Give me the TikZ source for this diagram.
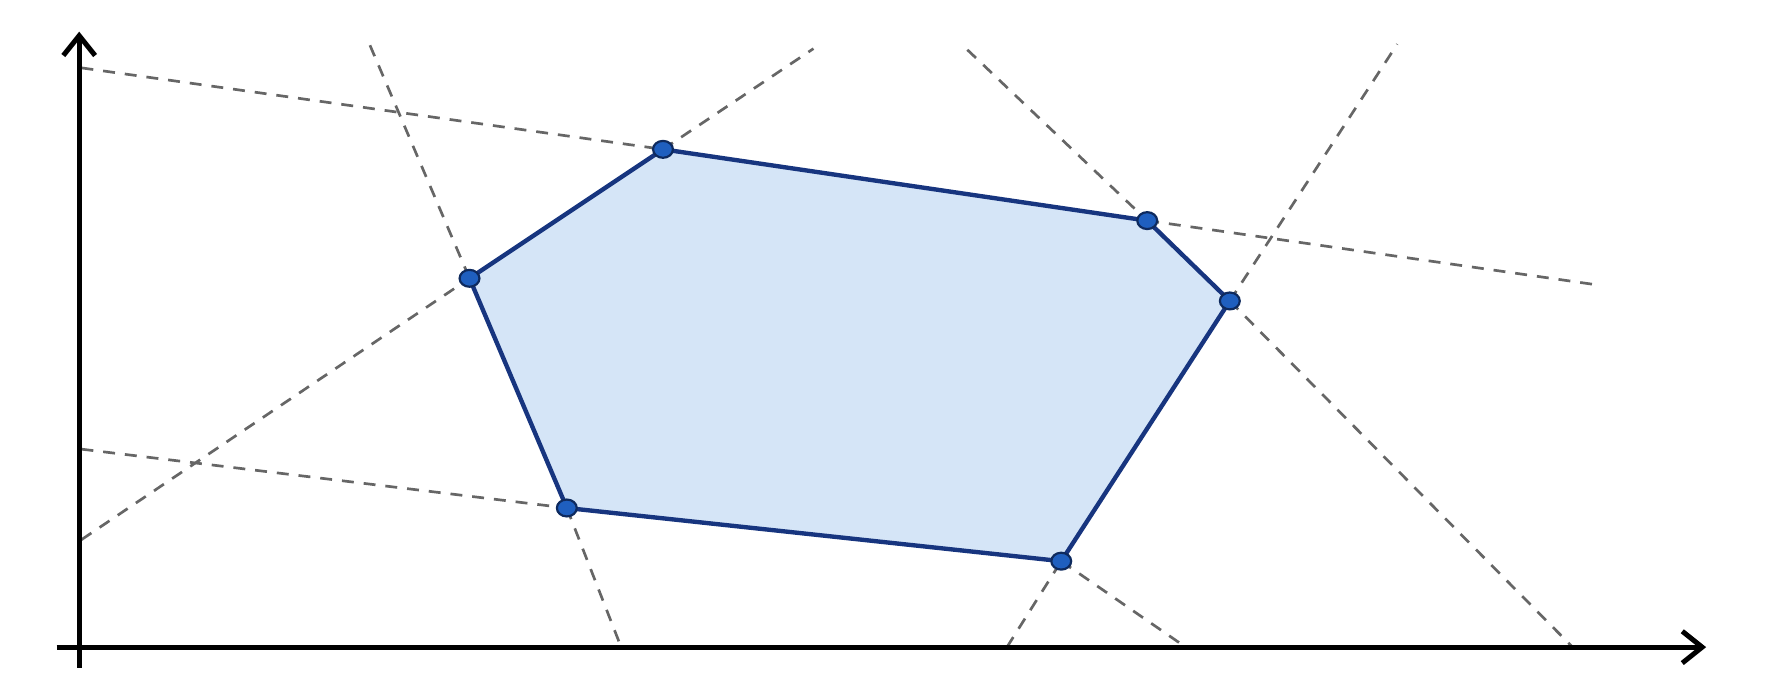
\documentclass[tikz,border=0pt]{standalone}
\usetikzlibrary{arrows.meta,shapes.geometric}
\definecolor{guidegray}{HTML}{666666}
\definecolor{polyfill}{HTML}{D5E5F7}
\definecolor{edgeblue}{HTML}{17357F}
\definecolor{dotblue}{HTML}{1F5FBF}
\definecolor{dotrim}{HTML}{0E2A5E}
\tikzset{
  axisline/.style={line width=2.5pt, black, -{Straight Barb[length=10pt,width=16pt,line width=2.5pt]}},
  guide/.style={line width=1.35pt, guidegray, dash pattern=on 6pt off 5pt},
  polyedge/.style={line width=2.2pt, edgeblue, line join=round},
  vdot/.style={ellipse, draw=dotrim, fill=dotblue, line width=1.1pt, minimum width=10pt, minimum height=8.5pt, inner sep=0pt}
}
\begin{document}
\begin{tikzpicture}[x=0.02cm,y=-0.02cm]
\useasboundingbox (0,0) rectangle (1568,618);
% vertices
\coordinate (A) at (586,132);
\coordinate (B) at (1014,195);
\coordinate (C) at (1087,266);
\coordinate (D) at (938,496);
\coordinate (E) at (501,449);
\coordinate (F) at (415,246);
% guide line ends
\coordinate (l1s) at (72,60);
\coordinate (l1e) at (1413,252);
\coordinate (l2s) at (72,477);
\coordinate (l2e) at (719,43);
\coordinate (l3s) at (327,40);
\coordinate (l3e) at (549,572);
\coordinate (l4s) at (72,397);
\coordinate (l5s) at (855,44);
\coordinate (l5e) at (1390,572);
\coordinate (l6s) at (890,572);
\coordinate (l6e) at (1235,39);
\coordinate (l7e) at (1048,572);
% axes anchors
\coordinate (xs) at (50,572);
\coordinate (xe) at (1508,572);
\coordinate (ys) at (70,590);
\coordinate (ye) at (70,28);
% polygon fill
\fill[polyfill] (A) -- (B) -- (C) -- (D) -- (E) -- (F) -- cycle;
% guide lines
\draw[guide] (l1s) -- (A);
\draw[guide] (B) -- (l1e);
\draw[guide] (l2s) -- (F);
\draw[guide] (A) -- (l2e);
\draw[guide] (l3s) -- (F);
\draw[guide] (E) -- (l3e);
\draw[guide] (l4s) -- (E);
\draw[guide] (l5s) -- (B);
\draw[guide] (C) -- (l5e);
\draw[guide] (l6s) -- (D);
\draw[guide] (C) -- (l6e);
\draw[guide] (D) -- (l7e);
% axes
\draw[axisline] (xs) -- (xe);
\draw[axisline] (ys) -- (ye);
% polygon edges
\draw[polyedge] (A) -- (B) -- (C) -- (D) -- (E) -- (F) -- cycle;
% vertex dots
\node[vdot] (dA) at (A) {};
\node[vdot] (dB) at (B) {};
\node[vdot] (dC) at (C) {};
\node[vdot] (dD) at (D) {};
\node[vdot] (dE) at (E) {};
\node[vdot] (dF) at (F) {};
\end{tikzpicture}
\end{document}
